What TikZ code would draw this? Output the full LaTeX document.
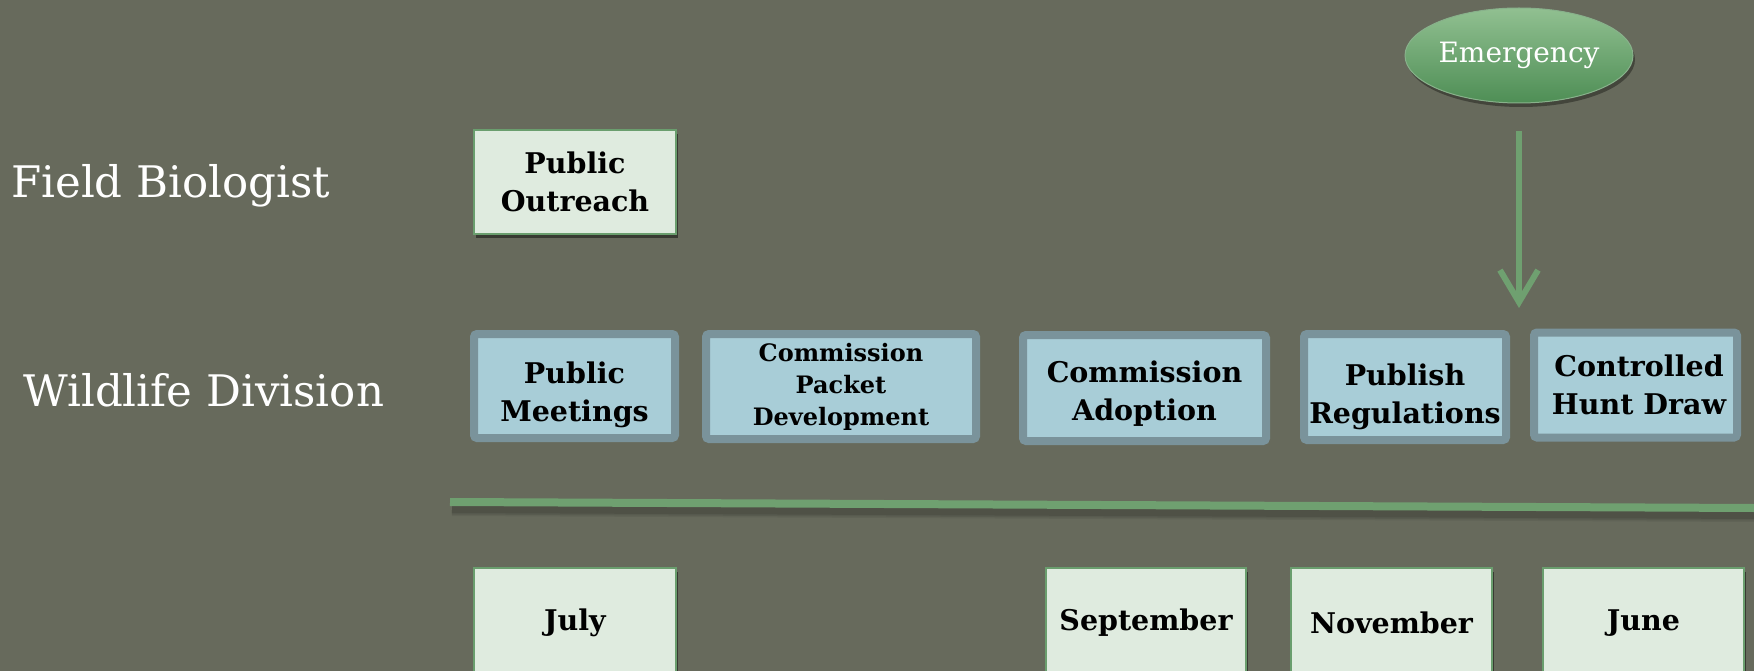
\documentclass[tikz,border=0pt]{standalone}
\usepackage{fontspec}
\setmainfont{DejaVu Serif}
\usetikzlibrary{shadows,arrows.meta,shapes.geometric}
\definecolor{bg}{RGB}{103,106,92}
\definecolor{lightfill}{RGB}{223,235,223}
\definecolor{lightdraw}{RGB}{106,158,110}
\definecolor{bluefill}{RGB}{168,205,215}
\definecolor{bluedraw}{RGB}{122,147,155}
\definecolor{gline}{RGB}{111,160,112}
\definecolor{etop}{RGB}{145,192,145}
\definecolor{ebot}{RGB}{78,142,85}
\newcommand{\dropby}[1]{\rule{0pt}{\dimexpr 21.7pt+2\dimexpr #1\relax\relax}}
\begin{document}
\begin{tikzpicture}[x=1pt,y=-1pt,
  boxtext/.style={font=\bfseries\fontsize{28.5}{38}\selectfont,align=center,inner sep=0pt,text=black},
  lightbox/.style={boxtext,draw=lightdraw,line width=2pt,fill=lightfill,
    drop shadow={shadow xshift=2pt,shadow yshift=-4pt,opacity=0.45,fill=black}},
  bluebox/.style={boxtext,draw=bluedraw,line width=8pt,fill=bluefill,rounded corners=3pt},
  lane/.style={text=white,font=\fontsize{43.5}{50}\selectfont,anchor=base west,inner sep=0pt}]
\useasboundingbox (0,0) rectangle (1754,671);
\fill[bg] (0,0) rectangle (1754,671);

% lane labels
\node[lane] (fb) at (11,198) {Field Biologist};
\node[lane] (wd) at (23,406) {Wildlife Division};

% field biologist row
\node[lightbox,minimum width=202pt,minimum height=104pt] (po) at (575,182) {Public\\Outreach};

% wildlife division row
\node[bluebox,minimum width=201pt,minimum height=104pt] (pm) at (574.5,386) {\dropby{9pt}Public\\Meetings};
\node[bluebox,minimum width=270pt,minimum height=105pt,font=\bfseries\fontsize{24}{32}\selectfont] (cpd) at (841,386.5) {Commission\\Packet\\Development};
\node[bluebox,minimum width=243pt,minimum height=106pt] (ca) at (1144.5,388) {\dropby{6pt}Commission\\Adoption};
\node[bluebox,minimum width=202pt,minimum height=106pt] (pr) at (1405,387) {\dropby{10pt}Publish\\Regulations};
\node[bluebox,minimum width=203pt,minimum height=105pt] (chd) at (1635.5,385) {\hspace*{7pt}Controlled\\\hspace*{7pt}Hunt Draw};

% emergency
\node[ellipse,minimum width=228pt,minimum height=95pt,inner sep=0pt,
  top color=etop,bottom color=ebot,draw=lightdraw!80!white,line width=1pt,
  drop shadow={shadow xshift=2pt,shadow yshift=-4pt,opacity=0.35,fill=black},
  text=white,font=\fontsize{28}{32}\selectfont] (em) at (1519,55.5) {Emergency};
\coordinate (ae) at (1519,308);
\draw[gline,line width=6pt,shorten <=28pt,-{Straight Barb[length=32pt,width=38pt,line width=6pt]}] (em.south) -- (ae);

% timeline
\coordinate (t1) at (450,502);
\coordinate (t2) at (1754,508);
\foreach \w/\o in {14/0.06,11/0.08,8/0.1}
  \draw[black,opacity=\o,line width=\w pt] ([shift={(2,7)}]t1) -- ([shift={(2,7)}]t2);
\draw[gline,line width=8pt] (t1) -- (t2);

% months
\node[lightbox,minimum width=202pt,minimum height=110pt] (jul) at (575,623) {July};
\node[lightbox,minimum width=200pt,minimum height=110pt] (sep) at (1146,623) {September};
\node[lightbox,minimum width=201pt,minimum height=110pt] (nov) at (1391.5,623) {November};
\node[lightbox,minimum width=201pt,minimum height=110pt] (jun) at (1643.5,623) {June};
\end{tikzpicture}
\end{document}
